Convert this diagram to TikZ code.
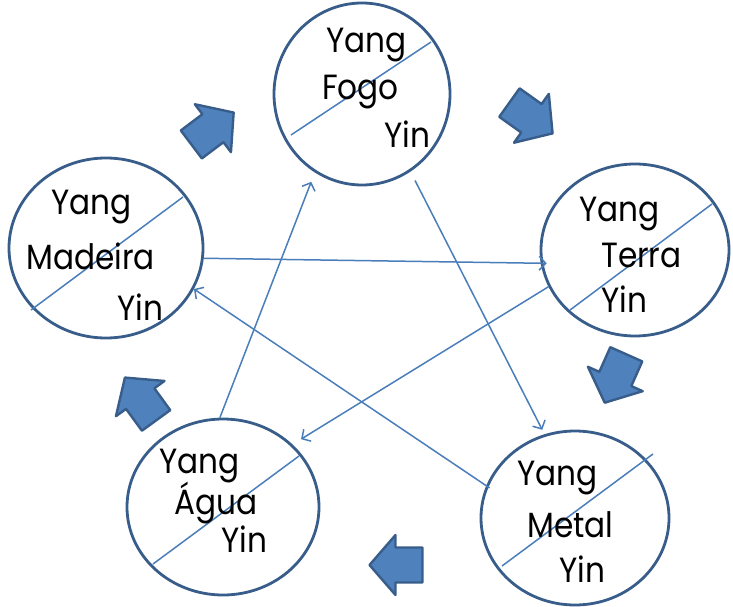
\documentclass[tikz,border=0pt]{standalone}
\usepackage{fontspec}
\setmainfont{Poppins}[FakeStretch=0.89]
\usetikzlibrary{arrows.meta,shapes.geometric}
\definecolor{ringblue}{HTML}{385D8A}
\definecolor{lineblue}{HTML}{4A7EBB}
\definecolor{fillblue}{HTML}{4F81BD}
\tikzset{
  ring/.style={ellipse, draw=ringblue, line width=2.8pt, inner sep=0pt},
  word/.style={anchor=base west, inner sep=0pt, text=black, font=\fontsize{35}{38}\selectfont},
  diag/.style={draw=lineblue, line width=1.5pt},
  link/.style={draw=lineblue, line width=1.5pt, -{Straight Barb[length=6.5pt,width=14pt,line width=1.5pt]}},
  blockarrow/.style={fill=fillblue, draw=ringblue, line width=2.4pt, line join=round}
}
\newcommand\blockarr[3]{\draw[blockarrow, shift={(#1,#2)}, rotate=#3]
  (-26.5,-17.5) -- (0.5,-17.5) -- (0.5,-30) -- (26.5,0) -- (0.5,30) -- (0.5,17.5) -- (-26.5,17.5) -- cycle;}
\begin{document}
\begin{tikzpicture}[x=1pt,y=1pt]
\useasboundingbox (0,0) rectangle (733,606);
% elements
\node[ring, minimum width=176pt, minimum height=182pt] (fogo) at (362,512) {};
\node[ring, minimum width=188pt, minimum height=172pt] (terra) at (635,356) {};
\node[ring, minimum width=194pt, minimum height=180pt] (madeira) at (106,358) {};
\node[ring, minimum width=192pt, minimum height=176pt] (agua) at (223,99) {};
\node[ring, minimum width=188pt, minimum height=174pt] (metal) at (575,88) {};
% diagonals
\draw[diag] ([shift={(-71,-41)}]fogo.center) -- ([shift={(69,52)}]fogo.center);
\draw[diag] ([shift={(-65,-60)}]terra.center) -- ([shift={(77,46)}]terra.center);
\draw[diag] ([shift={(-75,-62)}]madeira.center) -- ([shift={(77,51)}]madeira.center);
\draw[diag] ([shift={(-70,-57)}]agua.center) -- ([shift={(76,51)}]agua.center);
\draw[diag] ([shift={(-73,-48)}]metal.center) -- ([shift={(78,64)}]metal.center);
% texts
\node[word] (fogoyang) at (326,553) {Yang};
\node[word] (fogoname) at (322,506) {Fogo};
\node[word] (fogoyin) at (384,458) {Yin};
\node[word] (terrayang) at (579,384) {Yang};
\node[word] (terraname) at (601,338) {Terra};
\node[word] (terrayin) at (601,294) {Yin};
\node[word] (madeirayang) at (51,391) {Yang};
\node[word] (madeiraname) at (26,337) {Madeira};
\node[word] (madeirayin) at (117,286) {Yin};
\node[word] (aguayang) at (159,133) {Yang};
\node[word] (aguaname) at (174,92) {Água};
\node[word] (aguayin) at (221,54) {Yin};
\node[word] (metalyang) at (517,121) {Yang};
\node[word] (metalname) at (527,69) {Metal};
\node[word] (metalyin) at (559,24) {Yin};
% connectors
\draw[link, shorten >=-6pt] (madeira.-6) -- (terra.188);
\draw[link, shorten >=10pt] (terra.203) -- (agua.42);
\draw[link, shorten >=10pt] (agua.92) -- (fogo.239);
\draw[link, shorten <=10pt, shorten >=5pt] (fogo.-58) -- (metal.110);
\draw[link, shorten <=-4pt] (metal.160) -- (madeira.-25);
% block arrows
\blockarr{212.5}{477.5}{37}
\blockarr{531}{488}{-35.5}
\blockarr{615.5}{227.5}{-114}
\blockarr{396}{41}{180}
\blockarr{140.5}{207}{126}
\end{tikzpicture}
\end{document}
